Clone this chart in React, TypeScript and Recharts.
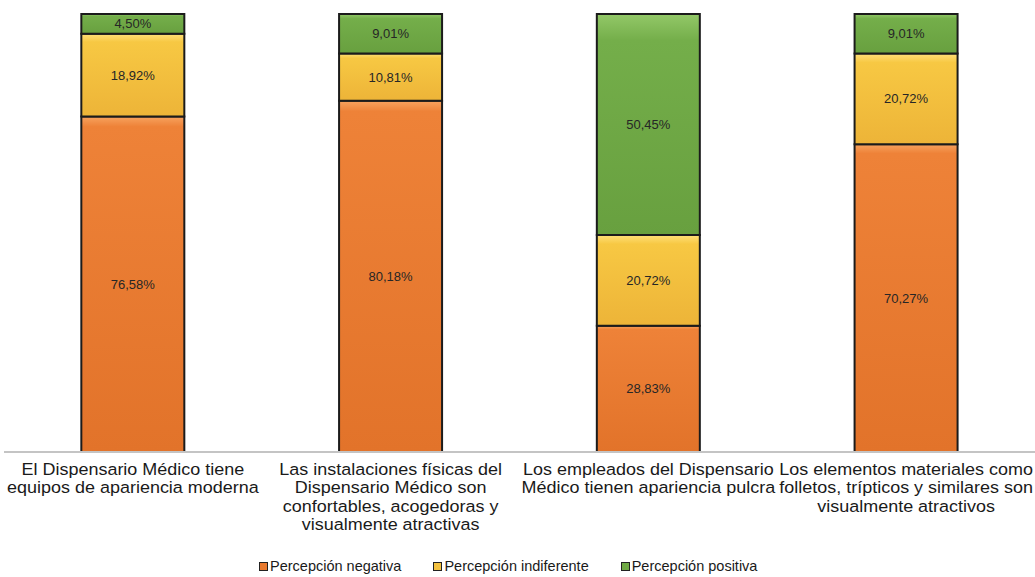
import { BarChart, Bar, XAxis, YAxis, LabelList, Legend } from "recharts";

const categories = [
  "El Dispensario Médico tiene|equipos de apariencia moderna",
  "Las instalaciones físicas del|Dispensario Médico son|confortables, acogedoras y|visualmente atractivas",
  "Los empleados del Dispensario|Médico tienen apariencia pulcra",
  "Los elementos materiales como|folletos, trípticos y similares son|visualmente atractivos",
];
const negativa = [76.58, 80.18, 28.83, 70.27];
const indiferente = [18.92, 10.81, 20.72, 20.72];
const positiva = [4.5, 9.01, 50.45, 9.01];

const data = categories.map((name, i) => ({
  name,
  negativa: negativa[i],
  indiferente: indiferente[i],
  positiva: positiva[i],
}));

const series = [
  { key: "negativa", name: "Percepción negativa", fill: "url(#gNeg)", swatch: "#E97A2F" },
  { key: "indiferente", name: "Percepción indiferente", fill: "url(#gInd)", swatch: "#F4C240" },
  { key: "positiva", name: "Percepción positiva", fill: "url(#gPos)", swatch: "#6FA944" },
];

const fmt = (v: number) => v.toFixed(2).replace(".", ",") + "%";

const FONT = "'Liberation Sans', Arial, sans-serif";

// multi-line category labels, split on "|"
function CategoryTick({ x, y, payload }: any) {
  const lines = String(payload.value).split("|");
  return (
    <g transform={`translate(${x},${y + 15}) scale(1.09,1)`}>
      <text x={0} y={0} textAnchor="middle" fontSize={16.5} fontFamily={FONT} fill="#1a1a1a">
        {lines.map((l, i) => (
          <tspan key={i} x={0} dy={i === 0 ? 0 : 18.3}>
            {l}
          </tspan>
        ))}
      </text>
    </g>
  );
}

function LegendBox() {
  return (
    <div
      style={{
        display: "flex",
        justifyContent: "flex-start",
        paddingLeft: 255,
        gap: 32,
        height: 16,
        lineHeight: "16px",
        fontFamily: FONT,
        fontSize: 14.5,
        color: "#1a1a1a",
      }}
    >
      {series.map((s) => (
        <span key={s.key} style={{ display: "flex", alignItems: "center" }}>
          <span style={{ width: 7, height: 7, background: s.swatch, border: "1.5px solid #222", marginRight: 2 }} />
          {s.name}
        </span>
      ))}
    </div>
  );
}

export default function App() {
  return (
    <div style={{ position: "absolute", left: 0, top: 0, background: "#fff" }}>
      <BarChart
        width={1035}
        height={577}
        data={data}
        margin={{ top: 14, right: 0, left: 4, bottom: 0 }}
        barCategoryGap="30%"
      >
        <defs>
          <linearGradient id="gNeg" x1="0" y1="0" x2="0" y2="1">
            <stop offset="0%" stopColor="#F7A35F" />
            <stop offset="3%" stopColor="#EE8238" />
            <stop offset="100%" stopColor="#E2732A" />
          </linearGradient>
          <linearGradient id="gInd" x1="0" y1="0" x2="0" y2="1">
            <stop offset="0%" stopColor="#FFE07A" />
            <stop offset="10%" stopColor="#F7C843" />
            <stop offset="100%" stopColor="#EDB438" />
          </linearGradient>
          <linearGradient id="gPos" x1="0" y1="0" x2="0" y2="1">
            <stop offset="0%" stopColor="#93C868" />
            <stop offset="12%" stopColor="#74AE4A" />
            <stop offset="100%" stopColor="#68A03F" />
          </linearGradient>
        </defs>
        <XAxis
          dataKey="name"
          interval={0}
          tickLine={false}
          axisLine={{ stroke: "#c4c4c4", strokeWidth: 2 }}
          height={109}
          tick={<CategoryTick />}
        />
        <YAxis hide domain={[0, 100]} />
        <Legend verticalAlign="bottom" content={<LegendBox />} wrapperStyle={{ bottom: 3 }} />
        {series.map((s) => (
          <Bar
            key={s.key}
            dataKey={s.key}
            name={s.name}
            stackId="a"
            fill={s.fill}
            stroke="#1b1b1b"
            strokeWidth={2}
            isAnimationActive={false}
          >
            <LabelList
              dataKey={s.key}
              position="center"
              formatter={(v: any) => fmt(Number(v))}
              fontSize={13}
              fontFamily={FONT}
              fill="#262626"
            />
          </Bar>
        ))}
      </BarChart>
    </div>
  );
}
